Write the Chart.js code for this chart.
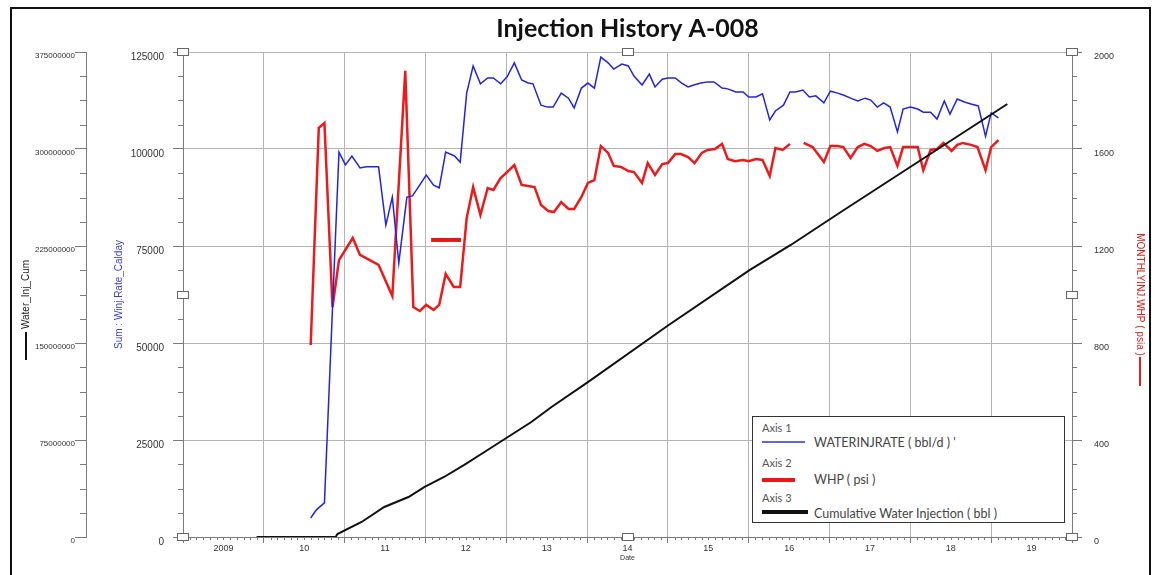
<!DOCTYPE html>
<html>
<head>
<meta charset="utf-8">
<title>Injection History A-008</title>
<script src="https://cdn.jsdelivr.net/npm/chart.js@4.4.1/dist/chart.umd.min.js"></script>
<style>
html, body { margin: 0; padding: 0; background: #fff; }
#wrap { position: relative; width: 1155px; height: 575px; overflow: hidden; }
#frame { position: absolute; left: 10px; top: 7px; width: 1141px; height: 620px; border: 2px solid #111; box-sizing: border-box; pointer-events: none; }
#legend { position: absolute; left: 752px; top: 416px; width: 313px; height: 107px; border: 1.5px solid #333; background: #fff; box-sizing: border-box;
  font-family: Lato, "Open Sans", sans-serif; font-size: 12.5px; line-height: 14px; color: #444; }
#legend div { position: absolute; white-space: nowrap; }
#legend .ax { color: #555; left: 9px; font-size: 11px; }
#legend .sw { left: 9px; }
#legend .tx { left: 61px; }
</style>
</head>
<body>
<div id="wrap">
  <canvas id="myChart" width="1155" height="575"></canvas>
  <div id="frame"></div>
  <div id="legend">
    <div class="ax" style="top:4px">Axis 1</div>
    <div class="sw" style="top:24px;width:43px;height:2px;background:#6262ee"></div>
    <div class="tx" style="top:19px">WATERINJRATE ( bbl/d ) '</div>
    <div class="ax" style="top:39px">Axis 2</div>
    <div class="sw" style="top:61px;width:33px;height:4px;background:#e81818"></div>
    <div class="tx" style="top:56px">WHP ( psi )</div>
    <div class="ax" style="top:74px">Axis 3</div>
    <div class="sw" style="top:93px;width:46px;height:4px;background:#111"></div>
    <div class="tx" style="top:90px">Cumulative Water Injection ( bbl )</div>
  </div>
</div>
<script>
// x values are decimal years
var rateYear = [2010.58,2010.65,2010.75,2010.93,2011.01,2011.09,2011.19,2011.27,2011.42,2011.51,
  2011.59,2011.67,2011.77,2011.84,2012.01,2012.10,2012.17,2012.25,2012.36,2012.43,
  2012.51,2012.59,2012.68,2012.77,2012.84,2012.93,2013.01,2013.10,2013.19,2013.27,
  2013.33,2013.43,2013.51,2013.58,2013.68,2013.77,2013.84,2013.93,2014.01,2014.09,
  2014.17,2014.26,2014.33,2014.43,2014.51,2014.58,2014.68,2014.77,2014.84,2014.93,
  2015.00,2015.09,2015.17,2015.25,2015.32,2015.41,2015.49,2015.57,2015.67,2015.74,
  2015.84,2015.93,2016.00,2016.09,2016.17,2016.26,2016.33,2016.43,2016.51,2016.58,
  2016.67,2016.75,2016.83,2016.93,2017.01,2017.10,2017.17,2017.26,2017.35,2017.44,
  2017.51,2017.59,2017.67,2017.75,2017.84,2017.91,2018.00,2018.09,2018.16,2018.25,
  2018.33,2018.42,2018.49,2018.58,2018.67,2018.75,2018.84,2018.93,2019.00,2019.09];
var rateValue = [4900,7000,8800,99200,95900,98200,95100,95400,95400,80400,
  87600,70600,87600,87900,93300,90700,90000,99200,98200,96600,
  114400,121400,116800,118300,118300,116800,118600,122200,117800,117000,
  116800,111300,110800,110800,114400,113100,110600,115700,117000,115700,
  123700,122200,120600,121900,121400,118800,116500,119300,116000,118000,
  118300,118300,117000,116000,116500,117000,117300,117300,115700,115500,
  114700,114700,113400,113400,114200,107500,109800,111300,114700,114700,
  115200,113400,113700,111900,114900,114400,113900,113100,112400,113100,
  112600,110800,111900,110800,104400,110300,110800,110300,109500,109500,
  107700,112400,109000,112900,112100,111600,111100,103300,109300,108000];

var whpYear = [2010.58,2010.68,2010.75,2010.85,2010.93,2011.10,2011.19,2011.42,2011.59,2011.75,
  2011.85,2011.93,2012.01,2012.10,2012.17,2012.25,2012.35,2012.43,2012.51,2012.59,
  2012.68,2012.77,2012.84,2012.93,2013.01,2013.10,2013.19,2013.27,2013.35,2013.43,
  2013.52,2013.59,2013.68,2013.77,2013.84,2013.93,2014.01,2014.09,2014.17,2014.26,
  2014.33,2014.42,2014.51,2014.58,2014.68,2014.75,2014.84,2014.93,2015.00,2015.09,
  2015.16,2015.25,2015.33,2015.42,2015.49,2015.58,2015.67,2015.74,2015.83,2015.93,
  2016.00,2016.09,2016.17,2016.26,2016.33,2016.42,2016.51,2016.59,2016.68,2016.79,
  2016.93,2017.01,2017.10,2017.17,2017.26,2017.35,2017.43,2017.51,2017.59,2017.68,
  2017.75,2017.84,2017.91,2018.00,2018.09,2018.16,2018.25,2018.33,2018.41,2018.51,
  2018.58,2018.65,2018.75,2018.83,2018.93,2019.00,2019.09];
var whpValue = [792,1687,1707,948,1142,1233,1163,1122,994,1922,
  948,932,957,936,957,1085,1031,1031,1315,1443,
  1328,1439,1431,1480,1505,1534,1452,1447,1443,1369,
  1344,1340,1381,1353,1353,1402,1460,1472,1612,1584,
  1530,1526,1509,1505,1460,1542,1493,1538,1542,1579,
  1579,1567,1542,1584,1596,1600,1621,1559,1550,1555,
  1550,1559,1555,1489,1604,1596,1621,null,1625,1608,
  1546,1612,1612,1608,1563,1608,1621,1612,1592,1604,
  1608,1530,1608,1608,1608,1513,1596,1600,1625,1592,
  1617,1625,1617,1608,1513,1608,1637];

var psiYear = [2012.07,2012.44];
var psiValue = [1225,1225];

var cumYear = [2009.91,2010.89,2010.91,2011.21,2011.49,2011.79,2011.99,2012.23,2012.48,2012.73,
  2013.02,2013.31,2013.56,2014.01,2015.01,2016.01,2016.52,2017.14,2019.20];
var cumValue = [0,0,2300000,11600000,23200000,30900000,38700000,46400000,55700000,65700000,
  77300000,88900000,100500000,119800000,163900000,206400000,225800000,251300000,334800000];

var xTickLabels = ["2009","10","11","12","13","14","15","16","17","18","19"];

function pts(xs, ys){
  var out = [];
  for(var i = 0;i < xs.length;i++){
    out.push({x: xs[i], y: ys[i]});
  }
  return out;
}

var gridGray = "#b4b4b4";
var axisGray = "#7a7a7a";

// minor ticks, the little selection boxes and the axis title swatches
var axisExtras = {
  id: "axisExtras",
  afterDraw: function(chart){
    var ctx = chart.ctx, a = chart.chartArea, s = chart.scales;
    ctx.save();
    ctx.strokeStyle = axisGray;
    ctx.lineWidth = 1;
    ctx.beginPath();
    [["yCum", 75000000, 6], ["y", 25000, 5], ["yWhp", 400, 5]].forEach(function(d){
      var sc = s[d[0]];
      var n = Math.round((sc.max - sc.min) / d[1]) * 4;
      var x0 = sc.position === "left" ? sc.right : sc.left;
      var x1 = sc.position === "left" ? x0 - d[2] : x0 + d[2];
      for(var i = 1;i < n;i++){
        if(i % 4 == 0) continue;
        var py = Math.round(sc.getPixelForValue(sc.min + i * d[1] / 4)) + 0.5;
        ctx.moveTo(x0, py);
        ctx.lineTo(x1, py);
      }
    });
    var sx = s.x;
    for(var m = 1;m < 12 * 11;m++){
      if(m % 12 == 0) continue;
      var px = Math.round(sx.getPixelForValue(2009 + m / 12)) + 0.5;
      ctx.moveTo(px, sx.top);
      ctx.lineTo(px, sx.top + 3);
    }
    ctx.stroke();

    // swatches below the rotated axis titles
    ctx.lineWidth = 2;
    ctx.strokeStyle = "#111";
    ctx.beginPath();
    ctx.moveTo(s.yCum.left + 26, 332);
    ctx.lineTo(s.yCum.left + 26, 360);
    ctx.stroke();
    ctx.strokeStyle = "#e02020";
    ctx.beginPath();
    ctx.moveTo(s.yWhp.right - 15, 357);
    ctx.lineTo(s.yWhp.right - 15, 386);
    ctx.stroke();

    // handles
    var mx = (a.left + a.right) / 2, my = (a.top + a.bottom) / 2;
    var h = [[a.left, a.top], [mx, a.top], [a.right, a.top], [a.left, my], [a.right, my],
             [a.left, a.bottom], [mx, a.bottom], [a.right, a.bottom]];
    ctx.lineWidth = 1;
    ctx.strokeStyle = "#666";
    ctx.fillStyle = "#fff";
    h.forEach(function(p){
      var hx = Math.round(p[0]), hy = Math.round(p[1]);
      ctx.fillRect(hx - 6, hy - 3, 12, 7);
      ctx.strokeRect(hx - 5.5, hy - 3.5, 11, 7);
    });
    ctx.restore();
  }
};

function drawchart(){
  Chart.defaults.font.family = "'Liberation Sans', Arial, sans-serif";
  Chart.defaults.color = "#333";
  var ctx = document.getElementById("myChart").getContext("2d");
  var xTicks = [];
  for(var y = 2009;y <= 2020;y++){
    xTicks.push(y);
    if(y < 2020) xTicks.push(y + 0.5);
  }
  new Chart(ctx, {
    type: "line",
    data: {
      datasets: [{
        label: "Cumulative Water Injection ( bbl )",
        data: pts(cumYear, cumValue),
        yAxisID: "yCum",
        borderColor: "#111",
        borderWidth: 2,
        pointRadius: 0,
        fill: false
      }, {
        label: "WATERINJRATE ( bbl/d )",
        data: pts(rateYear, rateValue),
        yAxisID: "y",
        borderColor: "#2424dc",
        borderWidth: 1.5,
        pointRadius: 0,
        fill: false
      }, {
        label: "MONTHLYINJ.WHP ( psia )",
        data: pts(whpYear, whpValue),
        yAxisID: "yWhp",
        borderColor: "#ec1a1a",
        borderWidth: 2.5,
        pointRadius: 0,
        spanGaps: false,
        fill: false
      }, {
        label: "WHP ( psi )",
        data: pts(psiYear, psiValue),
        yAxisID: "yWhp",
        borderColor: "#e01818",
        borderWidth: 4,
        pointRadius: 0,
        fill: false
      }]
    },
    options: {
      responsive: false,
      animation: false,
      devicePixelRatio: 1,
      layout: { padding: 0 },
      plugins: {
        legend: { display: false },
        tooltip: { enabled: false },
        title: {
          display: true,
          fullSize: false,
          text: "Injection History A-008",
          color: "#111",
          font: { family: "Lato, 'Open Sans', sans-serif", size: 25, weight: "bold" },
          padding: { top: 14, bottom: 8 }
        }
      },
      scales: {
        x: {
          type: "linear",
          min: 2009,
          max: 2020,
          afterBuildTicks: function(sc){
            sc.ticks = xTicks.map(function(v){ return {value: v}; });
          },
          afterFit: function(sc){ sc.height = 38; },
          ticks: {
            autoSkip: false,
            maxRotation: 0,
            padding: 0,
            font: { size: 9 },
            callback: function(v){
              if(v % 1 == 0) return "";
              return xTickLabels[Math.floor(v) - 2009];
            }
          },
          grid: {
            color: function(c){ return (c.tick && c.tick.value % 1 == 0) ? gridGray : "rgba(0,0,0,0)"; },
            tickColor: function(c){ return (c.tick && c.tick.value % 1 == 0) ? axisGray : "rgba(0,0,0,0)"; },
            tickLength: 6
          },
          border: { color: axisGray },
          title: { display: true, text: "Date", font: { size: 7 }, padding: { top: 0, bottom: 13 } }
        },
        y: {
          position: "left",
          weight: 0,
          min: 0,
          max: 125000,
          afterFit: function(sc){ sc.width = 97; },
          ticks: {
            stepSize: 25000,
            labelOffset: 5,
            padding: 9,
            font: { size: 10 },
            callback: function(v){ return String(v); }
          },
          grid: { color: gridGray, tickColor: axisGray, tickLength: 10 },
          border: { color: axisGray },
          title: { display: true, text: "Sum : Winj.Rate_Calday", color: "#3c3cd4", font: { size: 10 }, padding: { top: 27, bottom: 0 } }
        },
        yCum: {
          position: "left",
          weight: 1,
          min: 0,
          max: 375000000,
          afterFit: function(sc){ sc.width = 86; },
          ticks: {
            stepSize: 75000000,
            labelOffset: 4,
            padding: 0,
            font: { size: 8 },
            callback: function(v){ return String(v); }
          },
          grid: { drawOnChartArea: false, tickColor: axisGray, tickLength: 11 },
          border: { color: axisGray },
          title: { display: true, text: "Water_Inj_Cum", color: "#222", font: { size: 10 }, padding: { top: 20, bottom: 0 } }
        },
        yWhp: {
          position: "right",
          min: 0,
          max: 2000,
          afterFit: function(sc){ sc.width = 83; },
          ticks: {
            stepSize: 400,
            labelOffset: 5,
            padding: 12,
            font: { size: 9 },
            callback: function(v){ return String(v); }
          },
          grid: { drawOnChartArea: false, tickColor: axisGray, tickLength: 10 },
          border: { color: axisGray },
          title: { display: true, text: "MONTHLYINJ.WHP ( psia )", color: "#e02020", font: { size: 10 }, padding: { top: 9, bottom: 0 } }
        }
      }
    },
    plugins: [axisExtras]
  });
}
window.addEventListener("load", drawchart, false);
</script>
</body>
</html>
